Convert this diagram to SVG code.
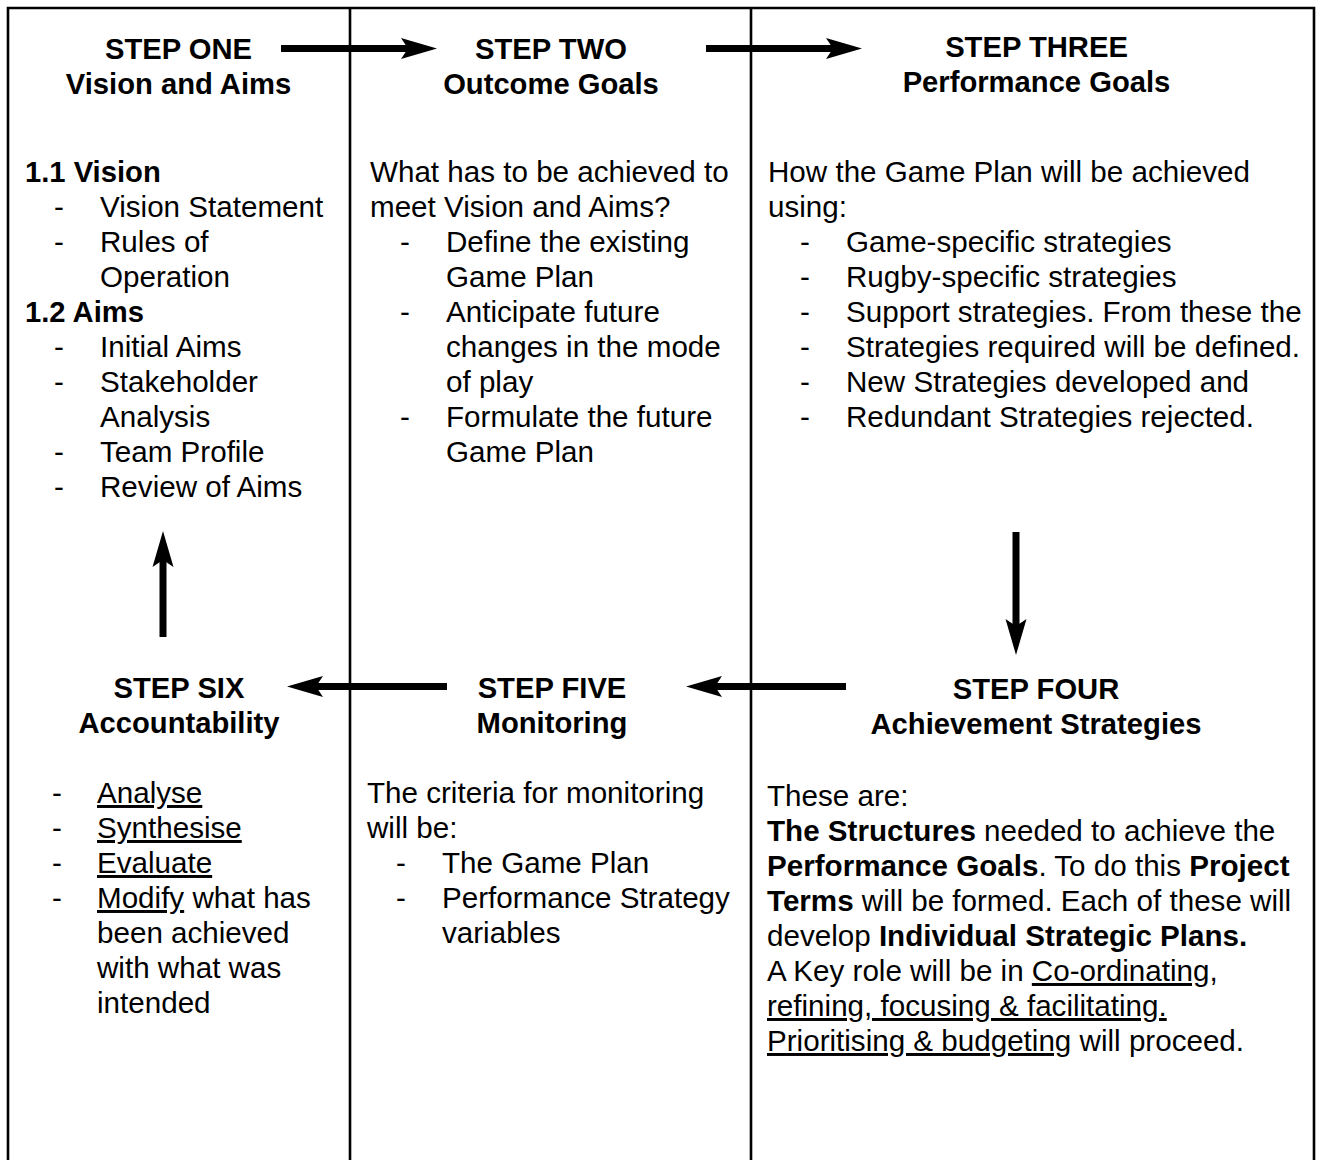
<svg xmlns="http://www.w3.org/2000/svg" width="1323" height="1160" viewBox="0 0 1323 1160">
<style>
text{font-family:"Liberation Sans",Arial,Helvetica,sans-serif;font-size:29.6px;fill:#000}
.t{font-weight:bold;text-anchor:middle;font-size:29.2px}
.b{font-weight:bold;font-size:29.2px}
tspan.b{font-size:29.6px}
.u{text-decoration:underline;text-decoration-skip-ink:none}
.frame{fill:none;stroke:#000;stroke-width:2.6}
.conn{stroke:#000;stroke-width:7;fill:none;marker-end:url(#ah)}
</style>
<defs>
<marker id="ah" markerUnits="userSpaceOnUse" markerWidth="40" markerHeight="24" viewBox="0 0 40 24" refX="8" refY="12" orient="auto">
<path d="M0,1.5 L36,12 L0,22.5 L7,12 Z" fill="#000"/>
</marker>
</defs>
<rect width="1323" height="1160" fill="#fff"/>
<g id="frame">
<path class="frame" d="M8,1200 V8 H1314 V1200"/>
<line class="frame" x1="350" y1="8" x2="350" y2="1200"/>
<line class="frame" x1="751" y1="8" x2="751" y2="1200"/>
</g>
<g id="step1">
<text class="t" x="178.5" y="59">STEP ONE</text>
<text class="t" x="178.5" y="94">Vision and Aims</text>
<text class="b" x="25" y="182">1.1 Vision</text>
<text x="54" y="217">-</text><text x="100" y="217">Vision Statement</text>
<text x="54" y="252">-</text><text x="100" y="252">Rules of</text>
<text x="100" y="287">Operation</text>
<text class="b" x="25" y="322">1.2 Aims</text>
<text x="54" y="357">-</text><text x="100" y="357">Initial Aims</text>
<text x="54" y="392">-</text><text x="100" y="392">Stakeholder</text>
<text x="100" y="427">Analysis</text>
<text x="54" y="462">-</text><text x="100" y="462">Team Profile</text>
<text x="54" y="497">-</text><text x="100" y="497">Review of Aims</text>
</g>
<g id="step2">
<text class="t" x="551" y="59">STEP TWO</text>
<text class="t" x="551" y="94">Outcome Goals</text>
<text x="370" y="182">What has to be achieved to</text>
<text x="370" y="217">meet Vision and Aims?</text>
<text x="400" y="252">-</text><text x="446" y="252">Define the existing</text>
<text x="446" y="287">Game Plan</text>
<text x="400" y="322">-</text><text x="446" y="322">Anticipate future</text>
<text x="446" y="357">changes in the mode</text>
<text x="446" y="392">of play</text>
<text x="400" y="427">-</text><text x="446" y="427">Formulate the future</text>
<text x="446" y="462">Game Plan</text>
</g>
<g id="step3">
<text class="t" x="1036.5" y="57">STEP THREE</text>
<text class="t" x="1036.5" y="92">Performance Goals</text>
<text x="768" y="182">How the Game Plan will be achieved</text>
<text x="768" y="217">using:</text>
<text x="800" y="252">-</text><text x="846" y="252">Game-specific strategies</text>
<text x="800" y="287">-</text><text x="846" y="287">Rugby-specific strategies</text>
<text x="800" y="322">-</text><text x="846" y="322">Support strategies. From these the</text>
<text x="800" y="357">-</text><text x="846" y="357">Strategies required will be defined.</text>
<text x="800" y="392">-</text><text x="846" y="392">New Strategies developed and</text>
<text x="800" y="427">-</text><text x="846" y="427">Redundant Strategies rejected.</text>
</g>
<g id="step4">
<text class="t" x="1036" y="699">STEP FOUR</text>
<text class="t" x="1036" y="734">Achievement Strategies</text>
<text x="767" y="806">These are:</text>
<text x="767" y="841"><tspan class="b">The Structures</tspan> needed to achieve the</text>
<text x="767" y="876"><tspan class="b">Performance Goals</tspan>. To do this <tspan class="b">Project</tspan></text>
<text x="767" y="911"><tspan class="b">Terms</tspan> will be formed. Each of these will</text>
<text x="767" y="946">develop <tspan class="b">Individual Strategic Plans.</tspan></text>
<text x="767" y="981">A Key role will be in <tspan class="u">Co-ordinating,</tspan></text>
<text x="767" y="1016"><tspan class="u">refining, focusing &amp; facilitating.</tspan></text>
<text x="767" y="1051"><tspan class="u">Prioritising &amp; budgeting</tspan> will proceed.</text>
</g>
<g id="step5">
<text class="t" x="552" y="698">STEP FIVE</text>
<text class="t" x="552" y="733">Monitoring</text>
<text x="367" y="803">The criteria for monitoring</text>
<text x="367" y="838">will be:</text>
<text x="396" y="873">-</text><text x="442" y="873">The Game Plan</text>
<text x="396" y="908">-</text><text x="442" y="908">Performance Strategy</text>
<text x="442" y="943">variables</text>
</g>
<g id="step6">
<text class="t" x="179" y="698">STEP SIX</text>
<text class="t" x="179" y="733">Accountability</text>
<text x="52" y="803">-</text><text x="97" y="803"><tspan class="u">Analyse</tspan></text>
<text x="52" y="838">-</text><text x="97" y="838"><tspan class="u">Synthesise</tspan></text>
<text x="52" y="873">-</text><text x="97" y="873"><tspan class="u">Evaluate</tspan></text>
<text x="52" y="908">-</text><text x="97" y="908"><tspan class="u">Modify</tspan> what has</text>
<text x="97" y="943">been achieved</text>
<text x="97" y="978">with what was</text>
<text x="97" y="1013">intended</text>
</g>
<g id="connectors">
<line class="conn" x1="281" y1="48.5" x2="409" y2="48.5"/>
<line class="conn" x1="706" y1="48.5" x2="834" y2="48.5"/>
<line class="conn" x1="1016" y1="532" x2="1016" y2="627"/>
<line class="conn" x1="846" y1="686.5" x2="714" y2="686.5"/>
<line class="conn" x1="447" y1="686.5" x2="315" y2="686.5"/>
<line class="conn" x1="163" y1="637" x2="163" y2="559"/>
</g>
</svg>
